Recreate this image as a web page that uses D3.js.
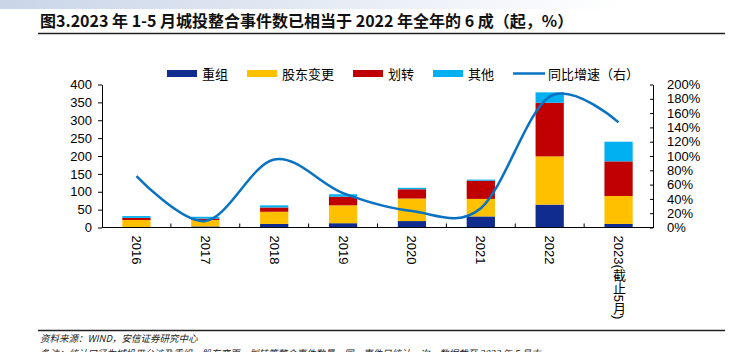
<!DOCTYPE html>
<html>
<head>
<meta charset="utf-8">
<script src="https://cdn.jsdelivr.net/npm/d3@7"></script>
<style>
  body { margin: 0; background: #fff; }
  svg text { font-family: "Liberation Sans", Arial, "Noto Sans CJK SC", sans-serif; fill: #000; }
  .cjk { font-family: "Noto Sans CJK SC", sans-serif; }
  .axis path, .axis line { stroke: #000; }
</style>
</head>
<body>
<svg id="chart" width="731" height="352"></svg>
<script>
// categories and series (counts, left axis; yoy in %, right axis)
const years = ['2016', '2017', '2018', '2019', '2020', '2021', '2022', '2023(截止5月)'];
const reorg = [0, 3, 10, 12, 18, 31, 64, 10];          // 重组
const holderChange = [21, 18, 34, 50, 63, 49, 135, 78]; // 股东变更
const transfer = [6, 4, 12, 24, 26, 51, 150, 97];       // 划转
const other = [5, 5, 6, 7, 4, 3, 29, 55];               // 其他
const yoy = [72, 9, 95, 48, 23, 27, 183, 147];          // 同比增速（右）

const leftTicks = [0, 50, 100, 150, 200, 250, 300, 350, 400];
const rightTicks = [0, 20, 40, 60, 80, 100, 120, 140, 160, 180, 200];

const seriesNames = ['重组', '股东变更', '划转', '其他'];
const colors = ['#102C8E', '#FFC000', '#C00000', '#00B0F0'];
const lineColor = '#0A72C2';

const W = 731, H = 352;
const margin = {top: 84.5, right: 78, bottom: 124.5, left: 102};
const width = W - margin.left - margin.right;
const height = H - margin.top - margin.bottom;

const svg = d3.select('#chart');

// top light band
const defs = svg.append('defs');
const grad = defs.append('linearGradient').attr('id', 'topband');
grad.append('stop').attr('offset', '0%').attr('stop-color', '#c9d5e8');
grad.append('stop').attr('offset', '85%').attr('stop-color', '#ffffff');
svg.append('rect').attr('x', 0).attr('y', 0).attr('width', W).attr('height', 9).attr('fill', 'url(#topband)');

// title
svg.append('text')
    .attr('class', 'cjk')
    .attr('x', 40)
    .attr('y', 27)
    .style('font-size', '16px')
    .style('font-weight', 'bold')
    .style('fill', '#111')
    .text('图3.2023 年 1-5 月城投整合事件数已相当于 2022 年全年的 6 成（起，%）');

svg.append('line')
    .attr('x1', 38).attr('x2', 725).attr('y1', 33.5).attr('y2', 33.5)
    .attr('stroke', '#222').attr('stroke-width', 1.5);

const chart = svg.append('g')
    .attr('transform', `translate(${margin.left},${margin.top})`);

const x = d3.scaleBand()
    .domain(years)
    .range([0, width])
    .paddingInner(0.59)
    .paddingOuter(0.295);

const yLeft = d3.scaleLinear().domain([0, 400]).range([height, 0]);
const yRight = d3.scaleLinear().domain([0, 200]).range([height, 0]);

// stacked bars
const table = years.map((yr, i) => ({
  year: yr, '重组': reorg[i], '股东变更': holderChange[i], '划转': transfer[i], '其他': other[i]
}));
const stacked = d3.stack().keys(seriesNames)(table);

chart.selectAll('.layer')
    .data(stacked)
    .join('g')
    .attr('class', 'layer')
    .attr('fill', (d, i) => colors[i])
    .selectAll('rect')
    .data(d => d)
    .join('rect')
    .attr('x', d => x(d.data.year))
    .attr('width', x.bandwidth())
    .attr('y', d => yLeft(d[1]))
    .attr('height', d => yLeft(d[0]) - yLeft(d[1]));

// left axis
const leftAxis = chart.append('g')
    .attr('class', 'axis')
    .call(d3.axisLeft(yLeft).tickValues(leftTicks).tickSizeInner(4).tickSizeOuter(0).tickPadding(6));
leftAxis.selectAll('text').style('font-size', '13px');

// right axis, ticks pointing inward
const rightAxis = chart.append('g')
    .attr('class', 'axis')
    .attr('transform', `translate(${width},0)`)
    .call(d3.axisRight(yRight).tickValues(rightTicks).tickFormat(d => d + '%')
        .tickSizeInner(-3).tickSizeOuter(0).tickPadding(14));
rightAxis.selectAll('text').style('font-size', '13px');

// bottom axis: labels at centres, ticks at category boundaries
const bottomAxis = chart.append('g')
    .attr('class', 'axis')
    .attr('transform', `translate(0,${height})`)
    .call(d3.axisBottom(x).tickSize(0).tickSizeOuter(0));
bottomAxis.select('.domain').attr('d', `M0,0H${width}`);
bottomAxis.selectAll('.tick text')
    .attr('y', 8)
    .attr('dy', null)
    .attr('x', 0)
    .style('font-size', '13px')
    .style('writing-mode', 'vertical-rl')
    .style('text-anchor', 'start');

const step = x.step();
bottomAxis.selectAll('.bound')
    .data(d3.range(1, years.length))
    .join('line')
    .attr('class', 'bound')
    .attr('x1', d => d * step).attr('x2', d => d * step)
    .attr('y1', 0).attr('y2', -4)
    .attr('stroke', '#000');

// smoothed yoy line
const line = d3.line()
    .x((d, i) => x(years[i]) + x.bandwidth() / 2)
    .y(d => yRight(d))
    .curve(d3.curveCardinal.tension(0));

chart.append('path')
    .datum(yoy)
    .attr('fill', 'none')
    .attr('stroke', lineColor)
    .attr('stroke-width', 2.5)
    .attr('d', line);

// legend
const legend = svg.append('g').attr('transform', 'translate(167,73.5)');
let lx = 0;
const legendItems = seriesNames.map((n, i) => ({name: n, color: colors[i], type: 'rect'}))
    .concat([{name: '同比增速（右）', color: lineColor, type: 'line'}]);
legendItems.forEach(item => {
  if (item.type === 'rect') {
    legend.append('rect').attr('x', lx).attr('y', -3.5).attr('width', 30).attr('height', 7).attr('fill', item.color);
  } else {
    legend.append('line').attr('x1', lx).attr('x2', lx + 32).attr('y1', 0).attr('y2', 0)
        .attr('stroke', item.color).attr('stroke-width', 2.5);
  }
  const t = legend.append('text')
      .attr('class', 'cjk')
      .attr('x', lx + 35)
      .attr('y', 5)
      .style('font-size', '13px')
      .text(item.name);
  lx += 35 + t.node().getComputedTextLength() + 19;
});

// footer
svg.append('line')
    .attr('x1', 38).attr('x2', 725).attr('y1', 330.5).attr('y2', 330.5)
    .attr('stroke', '#222').attr('stroke-width', 1.5);

svg.append('text')
    .attr('class', 'cjk')
    .attr('x', 40)
    .attr('y', 342)
    .style('font-size', '9.5px')
    .style('font-style', 'italic')
    .style('fill', '#222')
    .text('资料来源：WIND，安信证券研究中心');

svg.append('text')
    .attr('class', 'cjk')
    .attr('x', 40)
    .attr('y', 357)
    .style('font-size', '9.5px')
    .style('font-style', 'italic')
    .style('fill', '#222')
    .text('备注：统计口径为城投平台涉及重组、股东变更、划转等整合事件数量，同一事件只统计一次，数据截至 2023 年 5 月末');
</script>
</body>
</html>
